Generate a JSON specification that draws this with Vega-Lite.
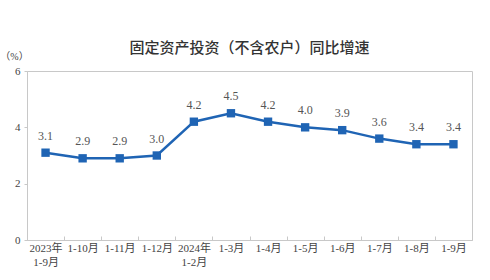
{
  "$schema": "https://vega.github.io/schema/vega-lite/v6.json",
  "autosize": "none",
  "width": 445,
  "height": 169,
  "padding": {"left": 27, "top": 71, "right": 18, "bottom": 40},
  "background": "white",
  "config": {"view": {"stroke": "#c8c8c8", "strokeWidth": 1}},
  "title": {
    "text": "固定资产投资（不含农户）同比增速",
    "font": "Noto Sans CJK SC",
    "fontSize": 15,
    "fontWeight": 500,
    "color": "#333333",
    "anchor": "middle",
    "offset": -5
  },
  "data": {
    "values": [
      {"period": "2023年\n1-9月", "value": 3.1},
      {"period": "1-10月", "value": 2.9},
      {"period": "1-11月", "value": 2.9},
      {"period": "1-12月", "value": 3.0},
      {"period": "2024年\n1-2月", "value": 4.2},
      {"period": "1-3月", "value": 4.5},
      {"period": "1-4月", "value": 4.2},
      {"period": "1-5月", "value": 4.0},
      {"period": "1-6月", "value": 3.9},
      {"period": "1-7月", "value": 3.6},
      {"period": "1-8月", "value": 3.4},
      {"period": "1-9月", "value": 3.4}
    ]
  },
  "encoding": {
    "x": {
      "field": "period",
      "type": "nominal",
      "sort": null,
      "scale": {"paddingInner": 0, "paddingOuter": 0},
      "axis": {
        "title": null,
        "labelAngle": 0,
        "labelExpr": "split(datum.label, '\\n')",
        "labelFont": "Liberation Serif, Noto Sans CJK SC",
        "labelFontSize": 11,
        "labelColor": "#444444",
        "labelPadding": 6,
        "labelLineHeight": 14,
        "tickBand": "extent",
        "tickSize": -4,
        "tickColor": "#c8c8c8",
        "domainColor": "#c8c8c8"
      }
    },
    "y": {
      "field": "value",
      "type": "quantitative",
      "scale": {"domain": [0, 6]},
      "axis": {
        "values": [0, 2, 4, 6],
        "grid": false,
        "title": "（%）",
        "titleAngle": 0,
        "titleX": -13,
        "titleY": -15,
        "titleAlign": "center",
        "titleBaseline": "middle",
        "titleFont": "Liberation Serif, Noto Sans CJK SC",
        "titleFontSize": 10,
        "titleFontWeight": "normal",
        "titleColor": "#444444",
        "labelFont": "Liberation Serif",
        "labelFontSize": 11,
        "labelColor": "#444444",
        "labelPadding": 4,
        "tickSize": 3,
        "tickColor": "#c8c8c8",
        "domainColor": "#c8c8c8"
      }
    }
  },
  "layer": [
    {
      "mark": {"type": "line", "color": "#1f64b4", "strokeWidth": 2.5}
    },
    {
      "mark": {"type": "square", "color": "#1f64b4", "opacity": 1, "filled": true, "size": 70}
    },
    {
      "mark": {"type": "text", "dy": -17, "font": "Liberation Serif", "fontSize": 12, "color": "#555555"},
      "encoding": {"text": {"field": "value", "type": "quantitative", "format": ".1f"}}
    }
  ]
}
